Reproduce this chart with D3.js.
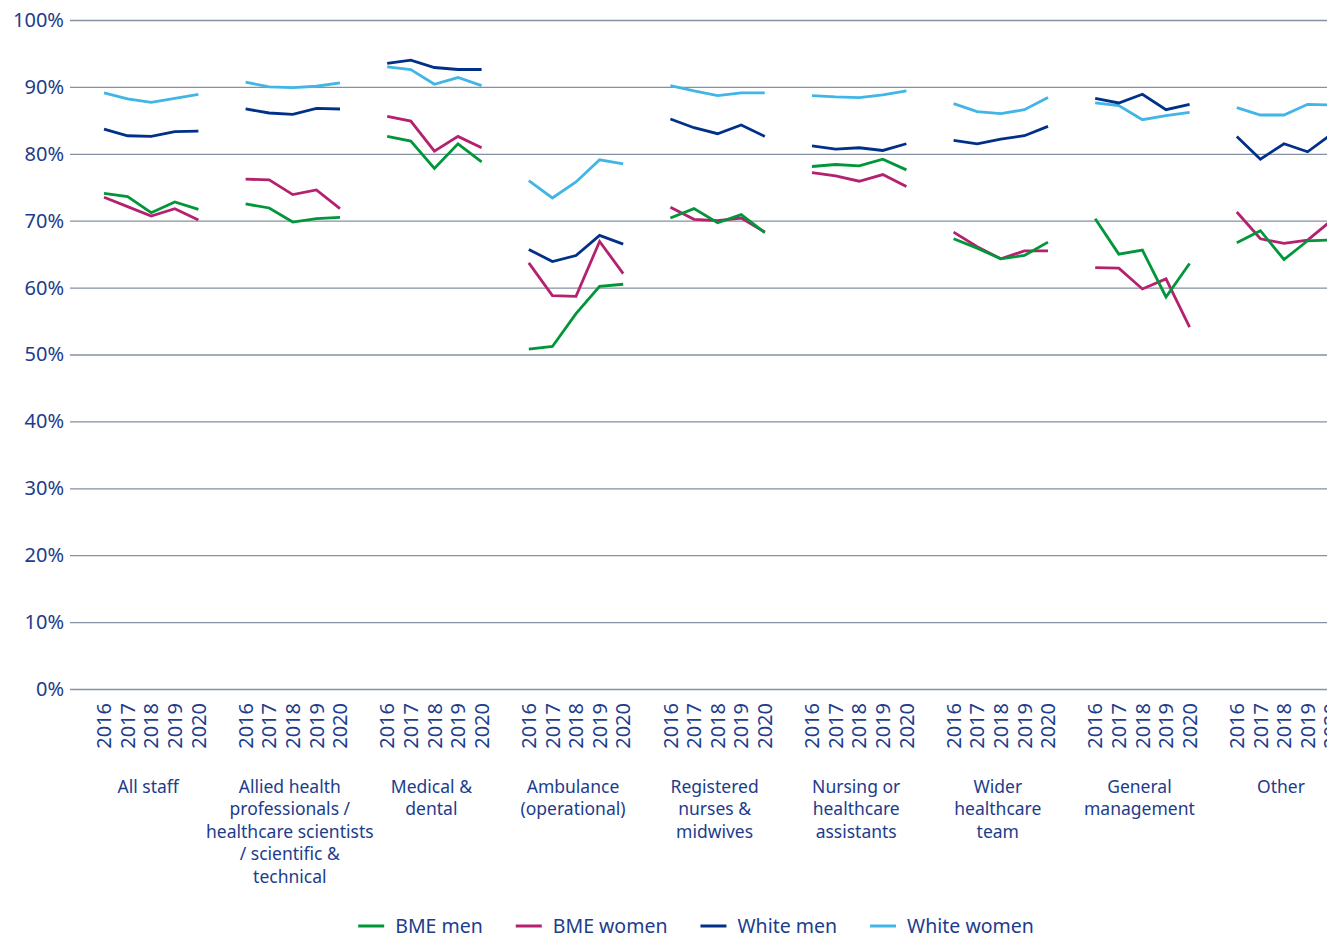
<!DOCTYPE html>
<html>
<head>
<meta charset="utf-8">
<script src="https://cdn.jsdelivr.net/npm/d3@7"></script>
<style>
  html, body { margin: 0; padding: 0; background: #fff; }
  svg { display: block; font-family: "Noto Sans", "Open Sans", sans-serif; }
</style>
</head>
<body>
<svg id="chart" width="1327" height="938"></svg>
<script>
// ---------- DATA ----------
const groups = [
  "All staff",
  "Allied health professionals / healthcare scientists / scientific & technical",
  "Medical & dental",
  "Ambulance (operational)",
  "Registered nurses & midwives",
  "Nursing or healthcare assistants",
  "Wider healthcare team",
  "General management",
  "Other"
];
const groupLabelLines = [
  ["All staff"],
  ["Allied health", "professionals /", "healthcare scientists", "/ scientific &", "technical"],
  ["Medical &", "dental"],
  ["Ambulance", "(operational)"],
  ["Registered", "nurses &", "midwives"],
  ["Nursing or", "healthcare", "assistants"],
  ["Wider", "healthcare", "team"],
  ["General", "management"],
  ["Other"]
];
const years = ["2016", "2017", "2018", "2019", "2020"];
const yTicks = [0, 10, 20, 30, 40, 50, 60, 70, 80, 90, 100];
const seriesNames = ["BME men", "BME women", "White men", "White women"];

// values (%) per group, years 2016..2020
const bmeMen = [
  [74.1, 73.6, 71.2, 72.8, 71.7],
  [72.5, 71.9, 69.8, 70.3, 70.5],
  [82.6, 81.9, 77.8, 81.5, 78.8],
  [50.8, 51.2, 56.1, 60.2, 60.5],
  [70.4, 71.8, 69.7, 70.9, 68.2],
  [78.1, 78.4, 78.2, 79.2, 77.6],
  [67.3, 65.9, 64.3, 64.8, 66.8],
  [70.3, 65.0, 65.6, 58.6, 63.6],
  [66.7, 68.5, 64.2, 67.0, 67.1]
];
const bmeWomen = [
  [73.5, 72.1, 70.7, 71.8, 70.1],
  [76.2, 76.1, 73.9, 74.6, 71.8],
  [85.6, 84.9, 80.4, 82.6, 80.9],
  [63.7, 58.8, 58.7, 66.9, 62.1],
  [72.0, 70.2, 70.0, 70.4, 68.3],
  [77.2, 76.7, 75.9, 76.9, 75.1],
  [68.3, 66.1, 64.3, 65.5, 65.5],
  [63.0, 62.9, 59.8, 61.3, 54.1],
  [71.3, 67.3, 66.6, 67.1, 70.0]
];
const whiteMen = [
  [83.7, 82.7, 82.6, 83.3, 83.4],
  [86.7, 86.1, 85.9, 86.8, 86.7],
  [93.5, 94.0, 92.9, 92.6, 92.6],
  [65.7, 63.9, 64.8, 67.8, 66.5],
  [85.2, 83.9, 83.0, 84.3, 82.6],
  [81.2, 80.7, 80.9, 80.5, 81.5],
  [82.0, 81.5, 82.2, 82.7, 84.1],
  [88.3, 87.6, 88.9, 86.6, 87.4],
  [82.6, 79.2, 81.5, 80.3, 82.9]
];
const whiteWomen = [
  [89.1, 88.2, 87.7, 88.3, 88.9],
  [90.7, 90.0, 89.9, 90.1, 90.6],
  [93.0, 92.6, 90.4, 91.4, 90.2],
  [76.0, 73.4, 75.8, 79.1, 78.5],
  [90.2, 89.4, 88.7, 89.1, 89.1],
  [88.7, 88.5, 88.4, 88.8, 89.4],
  [87.5, 86.3, 86.0, 86.6, 88.4],
  [87.6, 87.2, 85.1, 85.7, 86.2],
  [86.9, 85.8, 85.8, 87.4, 87.3]
];

// ---------- STYLE ----------
const colors = ["#009639", "#b3216f", "#003087", "#41b6e6"];
const textColor = "#1d3c8c";
const gridColor = "#8391a0";

const W = 1327, H = 938;
const svg = d3.select("#chart");

const plotLeft = 70, plotRight = W;
const y = d3.scaleLinear().domain([0, 100]).range([689, 20]);

const groupStep = 141.6;
const slot = groupStep / 6;
const xGroup = d3.scaleBand().domain(groups)
  .range([104 - slot / 2, 104 - slot / 2 + groupStep * groups.length]).paddingInner(0).paddingOuter(0);
const xYear = d3.scalePoint().domain(years).range([slot / 2, slot / 2 + 4 * slot]);
const xPos = (g, yr) => xGroup(g) + xYear(yr);

// ---------- Y AXIS + GRID ----------
const yAxis = d3.axisLeft(y)
  .tickValues(yTicks)
  .tickFormat(d => d + "%")
  .tickSizeInner(-(plotRight - plotLeft))
  .tickSizeOuter(0)
  .tickPadding(6);

const gy = svg.append("g").attr("transform", `translate(${plotLeft},0)`).call(yAxis);
gy.select(".domain").remove();
gy.selectAll(".tick line").attr("stroke", gridColor).attr("stroke-width", 1.3);
gy.selectAll(".tick text")
  .attr("fill", textColor)
  .attr("font-size", 20)
  .attr("font-family", "'Noto Sans', sans-serif");

// ---------- YEAR LABELS ----------
const yearG = svg.append("g");
groups.forEach(g => {
  years.forEach(yr => {
    yearG.append("text")
      .attr("transform", `translate(${xPos(g, yr)},703) rotate(-90)`)
      .attr("text-anchor", "end")
      .attr("dy", "0.36em")
      .attr("fill", textColor)
      .attr("font-size", 20)
      .text(yr);
  });
});

// ---------- GROUP LABELS ----------
const labG = svg.append("g");
groups.forEach((g, i) => {
  const cx = xPos(g, "2018") - 3;
  const t = labG.append("text")
    .attr("text-anchor", "middle")
    .attr("fill", textColor)
    .attr("font-size", 17.5);
  groupLabelLines[i].forEach((line, j) => {
    t.append("tspan").attr("x", cx).attr("y", 793 + j * 22.4).text(line);
  });
});

// ---------- LINES ----------
const seriesData = [bmeMen, bmeWomen, whiteMen, whiteWomen];
const line = d3.line()
  .x(d => xPos(d.g, d.yr))
  .y(d => y(d.v));

const linesG = svg.append("g");
[3, 2, 1, 0].forEach(si => {
  groups.forEach((g, gi) => {
    const pts = years.map((yr, k) => ({ g, yr, v: seriesData[si][gi][k] }));
    linesG.append("path")
      .datum(pts)
      .attr("d", line)
      .attr("fill", "none")
      .attr("stroke", colors[si])
      .attr("stroke-width", 2.8)
      .attr("stroke-linejoin", "miter");
  });
});

// ---------- LEGEND ----------
const legG = svg.append("g");
const sw = 26, swGap = 11, itemGap = 33;
let items = [];
seriesNames.forEach((name, i) => {
  const it = legG.append("g");
  it.append("line")
    .attr("x1", 0).attr("x2", sw).attr("y1", 0).attr("y2", 0)
    .attr("stroke", colors[i]).attr("stroke-width", 3);
  const tx = it.append("text")
    .attr("x", sw + swGap).attr("dy", "0.35em")
    .attr("fill", textColor).attr("font-size", 19.5)
    .text(name);
  const w = sw + swGap + tx.node().getComputedTextLength();
  items.push({ it, w });
});
const total = d3.sum(items, d => d.w) + itemGap * (items.length - 1);
let lx = 696 - total / 2;
items.forEach(d => {
  d.it.attr("transform", `translate(${lx},926)`);
  lx += d.w + itemGap;
});
</script>
</body>
</html>
